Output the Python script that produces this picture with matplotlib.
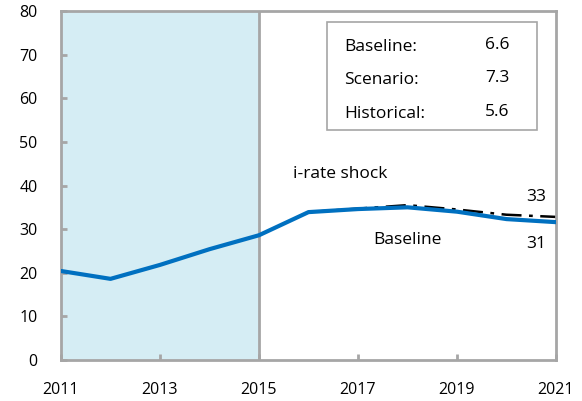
import matplotlib
matplotlib.use("Agg")
import matplotlib.pyplot as plt

years = [2011, 2012, 2013, 2014, 2015, 2016, 2017, 2018, 2019, 2020, 2021]
baseline = [20.4, 18.6, 21.8, 25.4, 28.6, 33.9, 34.6, 35.0, 34.0, 32.3, 31.6]
shock_years = [2016, 2017, 2018, 2019, 2020, 2021]
shock = [33.9, 34.7, 35.5, 34.5, 33.3, 32.8]
xticks = [2011, 2013, 2015, 2017, 2019, 2021]
yticks = [0, 10, 20, 30, 40, 50, 60, 70, 80]
box_labels = ["Baseline:", "Scenario:", "Historical:"]
box_values = ["6.6", "7.3", "5.6"]

plt.rcParams['font.family'] = ['Open Sans', 'DejaVu Sans']
spine_c = '#A6A6A6'
fs_tick = 11.5
fs_txt = 12.5

fig = plt.figure(figsize=(5.82, 4.01), dpi=100)
ax = fig.add_axes([61/582, 1 - 360/401, (556-61)/582, (360-11)/401])

ax.axvspan(2011, 2015, color='#D5EDF4', zorder=0, lw=0)
ax.axvline(2015, color=spine_c, lw=2, zorder=1)

ax.plot(shock_years, shock, color='black', lw=1.8, ls=(0, (8, 3, 1.5, 3)), zorder=2)
ax.plot(years, baseline, color='#0070C0', lw=3, zorder=3)

ax.set_xlim(2011, 2021)
ax.set_ylim(0, 80)
ax.set_xticks(xticks)
ax.set_yticks(yticks)
ax.tick_params(axis='both', direction='in', length=4, width=2, color=spine_c,
               labelsize=fs_tick, labelcolor='black')
ax.tick_params(axis='x', pad=16)
ax.tick_params(axis='y', pad=17)
for s in ax.spines.values():
    s.set_color(spine_c)
    s.set_linewidth(2)

ax.text(2016.64, 42.6, "i-rate shock", fontsize=fs_txt, ha='center', va='center')
ax.text(2018.0, 27.5, "Baseline", fontsize=fs_txt, ha='center', va='center')
ax.text(2020.6, 37.4, "33", fontsize=fs_txt, ha='center', va='center')
ax.text(2020.6, 26.6, "31", fontsize=fs_txt, ha='center', va='center')

# summary box
bx0, bx1 = 327, 537
by0, by1 = 22, 130
box = plt.Rectangle((bx0/582, 1 - by1/401), (bx1-bx0)/582, (by1-by0)/401,
                    transform=fig.transFigure, fill=True, facecolor='white',
                    edgecolor=spine_c, lw=1.2, zorder=5)
fig.add_artist(box)
rows_y = [47, 80, 114]
for lab, val, yy in zip(box_labels, box_values, rows_y):
    fig.text(344/582, 1 - yy/401, lab, fontsize=fs_txt, va='center', ha='left', zorder=6)
    fig.text(497/582, 1 - (yy-2)/401, val, fontsize=fs_txt, va='center', ha='center', zorder=6)

fig.savefig("out.png", dpi=100)
